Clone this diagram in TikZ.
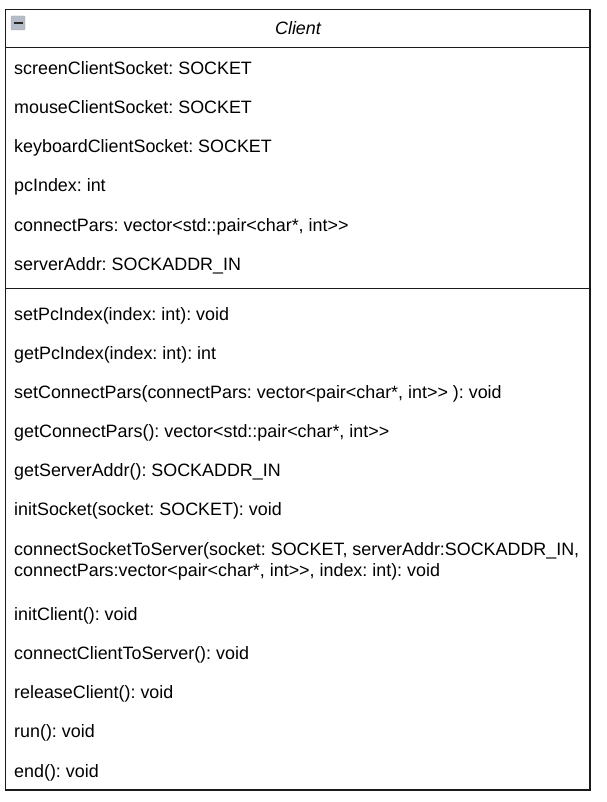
\documentclass[tikz,border=0pt]{standalone}
\usepackage{fontspec}
\setmainfont{Liberation Sans}
\usepackage{tikz}
\usetikzlibrary{positioning}
\definecolor{umlline}{HTML}{1A1A1A}
\definecolor{iconfill}{HTML}{B4BCC8}
\frenchspacing

\begin{document}
\begin{tikzpicture}[x=1pt, y=-1pt,
    part/.style={draw=umlline, line width=1.2pt, fill=white},
    member/.style={anchor=base west, inner sep=0pt, align=left,
                   font=\fontsize{17.9}{21}\selectfont},
    title/.style={anchor=base, inner sep=0pt, font=\fontsize{17.9}{21}\selectfont\itshape}]
    \useasboundingbox (0,0) rectangle (606,802);
    % class frame
    \draw[part] (5.5,9.5) rectangle (590,47.7);
    \draw[part] (5.5,47.7) rectangle (590,288.3);
    \draw[part] (5.5,288.3) rectangle (590,790);
    \draw[draw=gray!70, fill=iconfill, rounded corners=0.8pt] (11,16) rectangle (25,30);
    \draw[line width=1.6pt, black!85] (13.5,23) -- (22.5,23);
    \node[title] (cls) at (298,35) {Client};
    % attributes
    \node[member] (a1) at (14,75) {screenClientSocket: SOCKET};
    \node[member] (a2) at (14,114) {mouseClientSocket: SOCKET};
    \node[member] (a3) at (14,153) {keyboardClientSocket: SOCKET};
    \node[member] (a4) at (14,192) {pcIndex: int};
    \node[member] (a5) at (14,231) {connectPars: vector<std::pair<char*, int>{}>};
    \node[member] (a6) at (14,270) {serverAddr: SOCKADDR\_IN};
    % operations
    \node[member] (m1) at (14,320) {setPcIndex(index: int): void};
    \node[member] (m2) at (14,359) {getPcIndex(index: int): int};
    \node[member] (m3) at (14,398) {setConnectPars(connectPars: vector<pair<char*, int>{}> ): void};
    \node[member] (m4) at (14,437) {getConnectPars(): vector<std::pair<char*, int>{}>};
    \node[member] (m5) at (14,476) {getServerAddr(): SOCKADDR\_IN};
    \node[member] (m6) at (14,515) {initSocket(socket: SOCKET): void};
    \node[member] (m7) at (14,576) {connectSocketToServer(socket: SOCKET, serverAddr:SOCKADDR\_IN,\\connectPars:vector<pair<char*, int>{}>, index: int): void};
    \node[member] (m8) at (14,620) {initClient(): void};
    \node[member] (m9) at (14,659) {connectClientToServer(): void};
    \node[member] (m10) at (14,698) {releaseClient(): void};
    \node[member] (m11) at (14,737) {run(): void};
    \node[member] (m12) at (14,777) {end(): void};
  \end{tikzpicture}
\end{document}
